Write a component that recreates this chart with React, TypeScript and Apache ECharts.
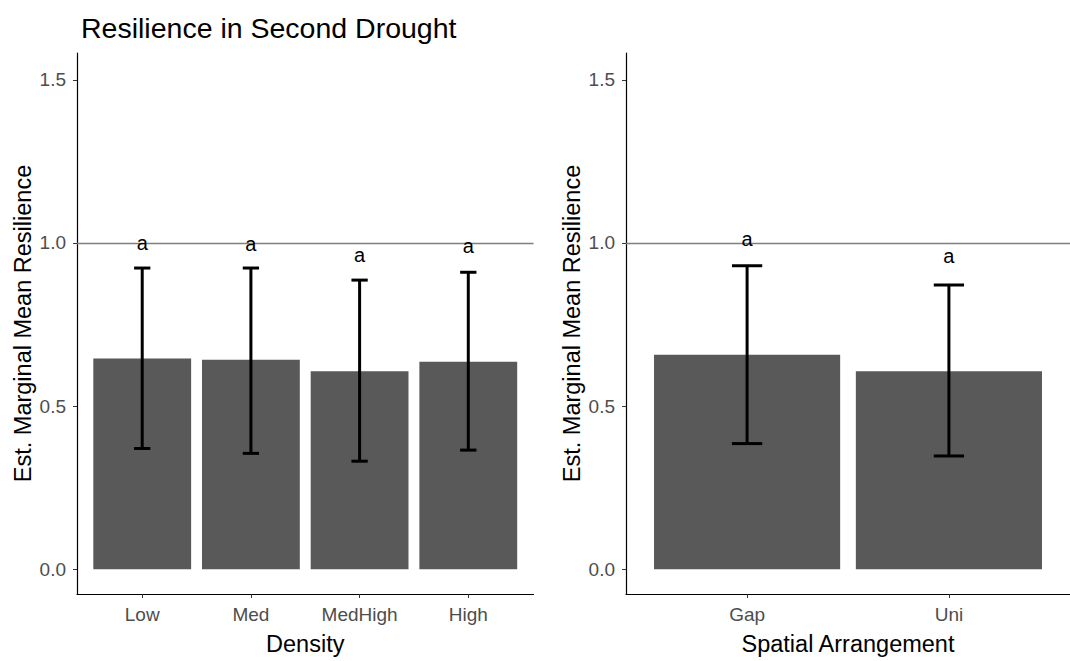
import React, { useEffect, useRef } from "react";
import * as echarts from "echarts";

// ---- data ----
const densityCats = ["Low", "Med", "MedHigh", "High"];
const densityMean = [0.646, 0.642, 0.607, 0.636];
const densityLower = [0.37, 0.355, 0.331, 0.365];
const densityUpper = [0.923, 0.923, 0.886, 0.91];
const densityLetters = ["a", "a", "a", "a"];
const densityLetterY = [1.0, 0.996, 0.962, 0.992];

const spatialCats = ["Gap", "Uni"];
const spatialMean = [0.657, 0.607];
const spatialLower = [0.385, 0.347];
const spatialUpper = [0.93, 0.871];
const spatialLetters = ["a", "a"];
const spatialLetterY = [1.011, 0.96];

const yTicks = [0, 0.5, 1.0, 1.5];
const refLine = 1.0;

// ---- layout ----
const FONT = "'Liberation Sans', Arial, sans-serif";
const Y_MIN = -0.076;
const Y_MAX = 1.582;
const GRID_TOP = 53;
const GRID_H = 546;
const LEFT_GRID = { left: 77, width: 456.5 };
const RIGHT_GRID = { left: 626, width: 455 };

function xAxisFor(cats: string[], gridIndex: number, name: string) {
  const ticks = cats.map((_, i) => i + 1);
  return {
    type: "value",
    gridIndex,
    min: 0.4,
    max: cats.length + 0.6,
    axisLine: { show: true, onZero: false, lineStyle: { color: "#000", width: 1.2 } },
    axisTick: { show: true, customValues: ticks, length: 4, lineStyle: { color: "#333", width: 1 } },
    axisLabel: {
      show: true,
      customValues: ticks,
      formatter: (v: number) => cats[Math.round(v) - 1] ?? "",
      color: "#4d4d4d",
      fontSize: 19,
      fontFamily: FONT,
      margin: 11,
    },
    splitLine: { show: false },
    name,
    nameLocation: "middle",
    nameGap: 38,
    nameTextStyle: { color: "#000", fontSize: 23.5, fontFamily: FONT },
  };
}

function yAxisFor(gridIndex: number) {
  return {
    type: "value",
    gridIndex,
    min: Y_MIN,
    max: Y_MAX,
    axisLine: { show: true, onZero: false, lineStyle: { color: "#000", width: 1.2 } },
    axisTick: { show: true, customValues: yTicks, length: 4, lineStyle: { color: "#333", width: 1 } },
    axisLabel: {
      show: true,
      customValues: yTicks,
      formatter: (v: number) => v.toFixed(1),
      color: "#4d4d4d",
      fontSize: 19,
      fontFamily: FONT,
      margin: 11,
    },
    splitLine: { show: false },
    name: "Est. Marginal Mean Resilience",
    nameLocation: "middle",
    nameGap: 42,
    nameRotate: 90,
    nameTextStyle: { color: "#000", fontSize: 23.5, fontFamily: FONT },
  };
}

function barSeries(means: number[], idx: number, barWidth: number) {
  return {
    type: "bar",
    xAxisIndex: idx,
    yAxisIndex: idx,
    data: means.map((v, i) => [i + 1, v]),
    barWidth,
    itemStyle: { color: "#595959" },
    z: 2,
    markLine: {
      silent: true,
      symbol: ["none", "none"],
      label: { show: false },
      lineStyle: { color: "#7f7f7f", width: 1.3, type: "solid" },
      data: [{ yAxis: refLine }],
    },
  };
}

function errorSeries(lower: number[], upper: number[], idx: number) {
  return {
    type: "custom",
    xAxisIndex: idx,
    yAxisIndex: idx,
    z: 5,
    data: lower.map((lo, i) => [i + 1, lo, upper[i]]),
    renderItem: (params: any, api: any) => {
      const x = api.value(0);
      const lo = api.value(1);
      const hi = api.value(2);
      const top = api.coord([x, hi]);
      const bot = api.coord([x, lo]);
      const tl = api.coord([x - 0.075, hi]);
      const tr = api.coord([x + 0.075, hi]);
      const bl = api.coord([x - 0.075, lo]);
      const br = api.coord([x + 0.075, lo]);
      const style = { stroke: "#000", lineWidth: 3 };
      return {
        type: "group",
        children: [
          { type: "line", shape: { x1: top[0], y1: top[1], x2: bot[0], y2: bot[1] }, style },
          { type: "line", shape: { x1: tl[0], y1: tl[1], x2: tr[0], y2: tr[1] }, style },
          { type: "line", shape: { x1: bl[0], y1: bl[1], x2: br[0], y2: br[1] }, style },
        ],
      };
    },
  };
}

function letterSeries(letters: string[], ys: number[], idx: number) {
  return {
    type: "custom",
    xAxisIndex: idx,
    yAxisIndex: idx,
    z: 6,
    data: ys.map((y, i) => [i + 1, y]),
    renderItem: (params: any, api: any) => {
      const p = api.coord([api.value(0), api.value(1)]);
      return {
        type: "text",
        x: p[0],
        y: p[1],
        style: {
          text: letters[params.dataIndex],
          fill: "#000",
          fontSize: 20,
          fontFamily: FONT,
          align: "center",
          verticalAlign: "middle",
        },
      };
    },
  };
}

export default function App() {
  const ref = useRef<HTMLDivElement>(null);

  useEffect(() => {
    if (!ref.current) return;
    const chart = echarts.init(ref.current, undefined, { renderer: "svg" });
    const leftBarW = (0.9 * LEFT_GRID.width) / (densityCats.length + 0.2);
    const rightBarW = (0.9 * RIGHT_GRID.width) / (spatialCats.length + 0.2);
    chart.setOption({
      animation: false,
      backgroundColor: "#fff",
      title: {
        text: "Resilience in Second Drought",
        left: 76,
        top: 8,
        textStyle: { color: "#000", fontSize: 28.5, fontWeight: "normal", fontFamily: FONT },
      },
      grid: [
        { left: LEFT_GRID.left, top: GRID_TOP, width: LEFT_GRID.width, height: GRID_H, containLabel: false },
        { left: RIGHT_GRID.left, top: GRID_TOP, width: RIGHT_GRID.width, height: GRID_H, containLabel: false },
      ],
      xAxis: [xAxisFor(densityCats, 0, "Density"), xAxisFor(spatialCats, 1, "Spatial Arrangement")],
      yAxis: [yAxisFor(0), yAxisFor(1)],
      series: [
        barSeries(densityMean, 0, leftBarW),
        errorSeries(densityLower, densityUpper, 0),
        letterSeries(densityLetters, densityLetterY, 0),
        barSeries(spatialMean, 1, rightBarW),
        errorSeries(spatialLower, spatialUpper, 1),
        letterSeries(spatialLetters, spatialLetterY, 1),
      ],
    });
    return () => chart.dispose();
  }, []);

  return (
    <div
      ref={ref}
      style={{ position: "fixed", left: 0, top: 0, width: 1070, height: 661, background: "#fff" }}
    />
  );
}
